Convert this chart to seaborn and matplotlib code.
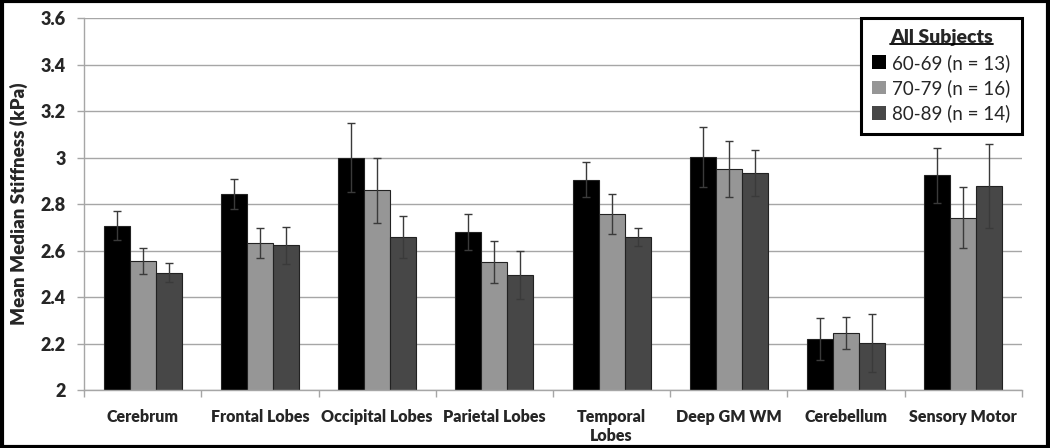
import numpy as np
import pandas as pd
import matplotlib
matplotlib.use("Agg")
import matplotlib.pyplot as plt
import seaborn as sns
from matplotlib.patches import Rectangle
from matplotlib.lines import Line2D

# values
regions = ["Cerebrum", "Frontal Lobes", "Occipital Lobes", "Parietal Lobes",
           "Temporal\nLobes", "Deep GM WM", "Cerebellum", "Sensory Motor"]
groups = ["60-69 (n = 13)", "70-79 (n = 16)", "80-89 (n = 14)"]

mean_6069 = [2.707, 2.843, 2.999, 2.680, 2.905, 3.003, 2.221, 2.923]
mean_7079 = [2.555, 2.631, 2.859, 2.552, 2.758, 2.950, 2.246, 2.741]
mean_8089 = [2.505, 2.622, 2.658, 2.495, 2.658, 2.933, 2.202, 2.877]

err_6069 = [0.063, 0.063, 0.148, 0.079, 0.075, 0.129, 0.090, 0.120]
err_7079 = [0.055, 0.064, 0.140, 0.090, 0.085, 0.120, 0.068, 0.130]
err_8089 = [0.042, 0.078, 0.089, 0.104, 0.040, 0.100, 0.125, 0.180]

colors = ["#000000", "#969696", "#474747"]

sns.set_theme(style="white")
plt.rcParams["font.family"] = ["Lato", "DejaVu Sans"]

df = pd.DataFrame({
    "region": regions * 3,
    "group": np.repeat(groups, len(regions)),
    "value": mean_6069 + mean_7079 + mean_8089,
})
errs = [err_6069, err_7079, err_8089]

fig = plt.figure(figsize=(10.5, 4.48), dpi=100)
ax = fig.add_axes([84 / 1050, 58 / 448, 938 / 1050, 372 / 448])

sns.barplot(data=df, x="region", y="value", hue="group", order=regions,
            hue_order=groups, palette=colors, width=0.667, gap=0,
            errorbar=None, edgecolor="#222222", linewidth=0.8, ax=ax)

# error bars at the bar centres
for cont, e in zip(ax.containers, errs):
    xs = [b.get_x() + b.get_width() / 2 for b in cont]
    hs = [b.get_height() for b in cont]
    ax.errorbar(xs, hs, yerr=e, fmt="none", ecolor="#3a3a3a",
                elinewidth=1, capsize=3, capthick=1, zorder=5)

ax.set_ylim(2, 3.6)
ax.set_xlim(-0.5, len(regions) - 0.5)
ax.set_yticks(np.arange(2, 3.61, 0.2))
ax.set_yticklabels(["2", "2.2", "2.4", "2.6", "2.8", "3", "3.2", "3.4", "3.6"],
                   fontsize=13, fontweight="heavy")
ax.yaxis.grid(True, color="#a6a6a6", linewidth=1)
ax.set_axisbelow(True)

ax.set_xticks(range(len(regions)))
ax.set_xticklabels(regions, fontsize=11.5, fontweight="heavy", linespacing=1.2)
ax.set_xticks(np.arange(-0.5, len(regions) + 0.5, 1), minor=True)
ax.tick_params(axis="x", which="major", length=0, pad=14)
ax.tick_params(axis="x", which="minor", length=5, color="#a6a6a6", width=1,
               direction="out", bottom=True)
ax.tick_params(axis="y", length=5, color="#a6a6a6", width=1, left=True,
               direction="out", pad=8)

for s in ["top", "right"]:
    ax.spines[s].set_visible(False)
for s in ["left", "bottom"]:
    ax.spines[s].set_color("#a6a6a6")
    ax.spines[s].set_linewidth(1)

ax.set_xlabel("")
ax.set_ylabel("Mean Median Stiffness (kPa)", fontsize=13.5, fontweight="heavy",
              labelpad=9)

leg = ax.legend(title="All Subjects", loc="upper right",
                bbox_to_anchor=(1.0, 1.0), borderaxespad=0, fontsize=13.5,
                title_fontproperties={"size": 14, "weight": "heavy"},
                frameon=True, fancybox=False,
                handlelength=0.75, handleheight=0.75, handletextpad=0.35,
                labelspacing=0.4, borderpad=0.6)
leg.get_frame().set_edgecolor("black")
leg.get_frame().set_linewidth(2.2)
leg.get_frame().set_alpha(1)
for h in leg.legend_handles:
    h.set_edgecolor("none")

# underline the legend title
fig.canvas.draw()
tb = leg.get_title().get_window_extent().transformed(fig.transFigure.inverted())
fig.add_artist(Line2D([tb.x0, tb.x1], [tb.y0 + 0.004, tb.y0 + 0.004],
                      transform=fig.transFigure, color="black", linewidth=1.3))

# outer border of the figure
fig.patches.append(Rectangle((0.002, 0.003), 0.996, 0.994, transform=fig.transFigure,
                             fill=False, edgecolor="black", linewidth=3))

fig.savefig("out.png", dpi=100)
